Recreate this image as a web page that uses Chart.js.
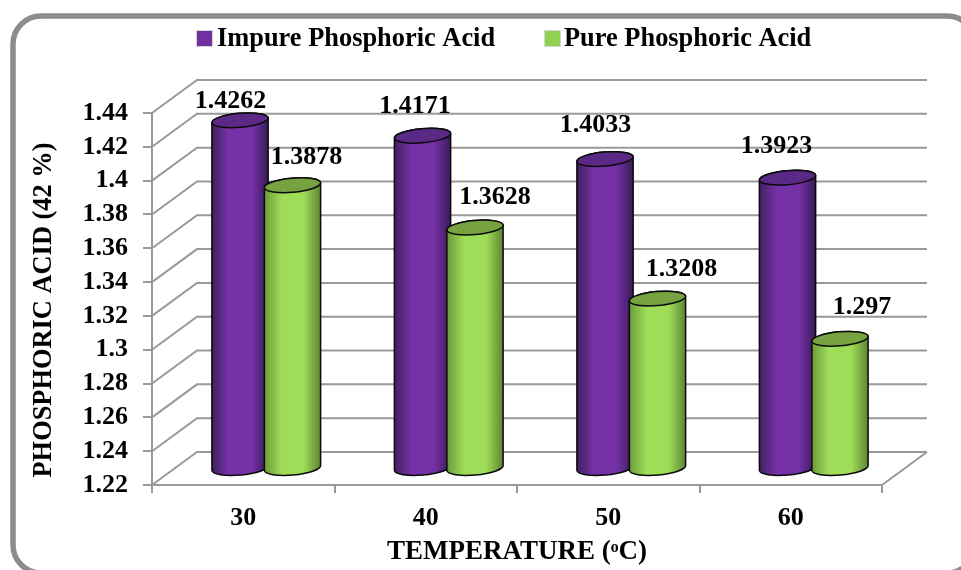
<!DOCTYPE html>
<html>
<head>
<meta charset="utf-8">
<style>html,body{margin:0;padding:0;background:#fff}canvas{display:block}</style>
<script src="https://cdn.jsdelivr.net/npm/chart.js@4"></script>
</head>
<body>
<canvas id="c" width="961" height="570"></canvas>
<script>
const categories = ['30', '40', '50', '60'];
const impureValues = [1.4262, 1.4171, 1.4033, 1.3923];
const pureValues = [1.3878, 1.3628, 1.3208, 1.297];
const valueLabels = [['1.4262', '1.4171', '1.4033', '1.3923'], ['1.3878', '1.3628', '1.3208', '1.297']];
const seriesNames = ['Impure Phosphoric Acid', 'Pure Phosphoric Acid'];
const yMin = 1.22, yMax = 1.44, yStep = 0.02;

const FONT = '"Liberation Serif", "Times New Roman", serif';
const depth = {x: 45, y: -33};
const barShift = {x: 23, y: -16};
const labelNudge = [
  [[-9.5, -19], [-7.5, -29.5], [-9.5, -34], [-11, -31.5]],
  [[14, -28], [20, -30], [24, -29], [22, -32]]
];
const palette = [
  {swatch: '#7030a0', edgeL: '#40205f', mid: '#7531a8', edgeR: '#3a1a58', cap: '#5a2885'},
  {swatch: '#92d050', edgeL: '#6a9a3a', mid: '#9fdc58', edgeR: '#5d8534', cap: '#76a33f'}
];
const legendLayout = [{box: 197, text: 217}, {box: 545, text: 564}];
const TILT = -5 * Math.PI / 180;

function cylinder(ctx, el, col) {
  const cx = el.x + barShift.x, rx = el.width / 2, ry = 7;
  const top = el.y + barShift.y, base = el.base + barShift.y;
  const g = ctx.createLinearGradient(cx - rx, 0, cx + rx, 0);
  g.addColorStop(0, col.edgeL);
  g.addColorStop(0.3, col.mid);
  g.addColorStop(0.7, col.mid);
  g.addColorStop(1, col.edgeR);
  ctx.save();
  ctx.lineWidth = 1.5;
  ctx.strokeStyle = '#0a0a0a';
  ctx.beginPath();
  ctx.ellipse(cx, top, rx, ry, TILT, Math.PI, 2 * Math.PI);
  ctx.ellipse(cx, base, rx, ry, TILT, 0, Math.PI);
  ctx.closePath();
  ctx.fillStyle = g;
  ctx.fill();
  ctx.stroke();
  ctx.beginPath();
  ctx.ellipse(cx, top, rx, ry, TILT, 0, 2 * Math.PI);
  ctx.fillStyle = col.cap;
  ctx.fill();
  ctx.stroke();
  ctx.restore();
}

const scene = {
  id: 'scene',
  afterLayout(chart) {
    const y = chart.scales.y;
    if (y._shifted) return;
    y._shifted = true;
    const orig = y.drawTitle;
    y.drawTitle = function () {
      chart.ctx.save();
      chart.ctx.translate(0, 11);
      orig.call(this);
      chart.ctx.restore();
    };
  },
  beforeDraw(chart) {
    const ctx = chart.ctx;
    ctx.save();
    ctx.fillStyle = '#fff';
    ctx.fillRect(0, 0, chart.width, chart.height);
    ctx.beginPath();
    ctx.roundRect(13, 16, 962, 557, 28);
    ctx.lineWidth = 5.5;
    ctx.strokeStyle = '#8c8c8c';
    ctx.stroke();
    ctx.restore();
  },
  beforeDatasetsDraw(chart) {
    const ctx = chart.ctx, {x: xs, y: ys} = chart.scales;
    ctx.save();
    ctx.strokeStyle = '#999999';
    ctx.lineWidth = 2;
    ys.ticks.forEach(t => {
      const py = ys.getPixelForValue(t.value);
      ctx.beginPath();
      ctx.moveTo(xs.left, py);
      ctx.lineTo(xs.left + depth.x, py + depth.y);
      ctx.lineTo(xs.right + depth.x, py + depth.y);
      ctx.stroke();
    });
    const floor = ys.getPixelForValue(yMin);
    ctx.beginPath();
    ctx.moveTo(xs.right, floor);
    ctx.lineTo(xs.right + depth.x, floor + depth.y);
    ctx.stroke();
    ctx.restore();
    categories.forEach((_, i) => {
      chart.data.datasets.forEach((_d, di) => {
        cylinder(ctx, chart.getDatasetMeta(di).data[i], palette[di]);
      });
    });
  },
  beforeDatasetDraw() { return false; },
  afterDatasetsDraw(chart) {
    const ctx = chart.ctx;
    ctx.save();
    ctx.fillStyle = '#000';
    ctx.font = 'bold 26px ' + FONT;
    ctx.textBaseline = 'middle';
    chart.data.datasets.forEach((_d, di) => {
      chart.getDatasetMeta(di).data.forEach((el, i) => {
        ctx.textAlign = 'center';
        ctx.fillText(valueLabels[di][i],
          el.x + barShift.x + labelNudge[di][i][0],
          el.y + barShift.y + labelNudge[di][i][1]);
      });
    });
    ctx.font = 'bold 26.4px ' + FONT;
    chart.data.datasets.forEach((d, di) => {
      ctx.fillStyle = palette[di].swatch;
      ctx.strokeStyle = '#d4d4d4';
      ctx.lineWidth = 1;
      ctx.fillRect(legendLayout[di].box, 31, 15, 15);
      ctx.strokeRect(legendLayout[di].box - 0.5, 30.5, 16, 16);
      ctx.fillStyle = '#000';
      ctx.textAlign = 'left';
      ctx.fillText(d.label, legendLayout[di].text, 39.5);
    });
    ctx.restore();
  }
};

new Chart(document.getElementById('c'), {
  type: 'bar',
  data: {
    labels: categories,
    datasets: [
      {label: seriesNames[0], data: impureValues, base: yMin, backgroundColor: palette[0].swatch},
      {label: seriesNames[1], data: pureValues, base: yMin, backgroundColor: palette[1].swatch}
    ]
  },
  options: {
    responsive: false,
    animation: false,
    devicePixelRatio: 1,
    categoryPercentage: 0.575,
    barPercentage: 1.076,
    layout: {padding: {top: 113, right: 79, left: 0, bottom: 0}},
    plugins: {legend: {display: false}, tooltip: {enabled: false}},
    scales: {
      x: {
        afterFit(s) { s.height = 85; },
        grid: {drawOnChartArea: false, tickLength: 8, color: '#999999', lineWidth: 2},
        border: {color: '#999999', width: 2},
        ticks: {color: '#000', padding: 10, font: {family: FONT, weight: 'bold', size: 26}, maxRotation: 0},
        title: {display: true, text: 'TEMPERATURE (ᵒC)', color: '#000',
          font: {family: FONT, weight: 'bold', size: 27}, padding: {top: 0, bottom: 2}}
      },
      y: {
        min: yMin, max: yMax,
        afterFit(s) { s.width = 152; },
        grid: {drawOnChartArea: false, tickLength: 9, color: '#999999', lineWidth: 2},
        border: {color: '#999999', width: 2},
        ticks: {stepSize: yStep, color: '#000', padding: 15, autoSkip: false,
          font: {family: FONT, weight: 'bold', size: 26},
          callback: v => String(Number(v.toFixed(2)))},
        title: {display: true, text: 'PHOSPHORIC ACID (42 %)', color: '#000',
          font: {family: FONT, weight: 'bold', size: 26.4}, padding: {top: 28, bottom: 0}}
      }
    }
  },
  plugins: [scene]
});
</script>
</body>
</html>
